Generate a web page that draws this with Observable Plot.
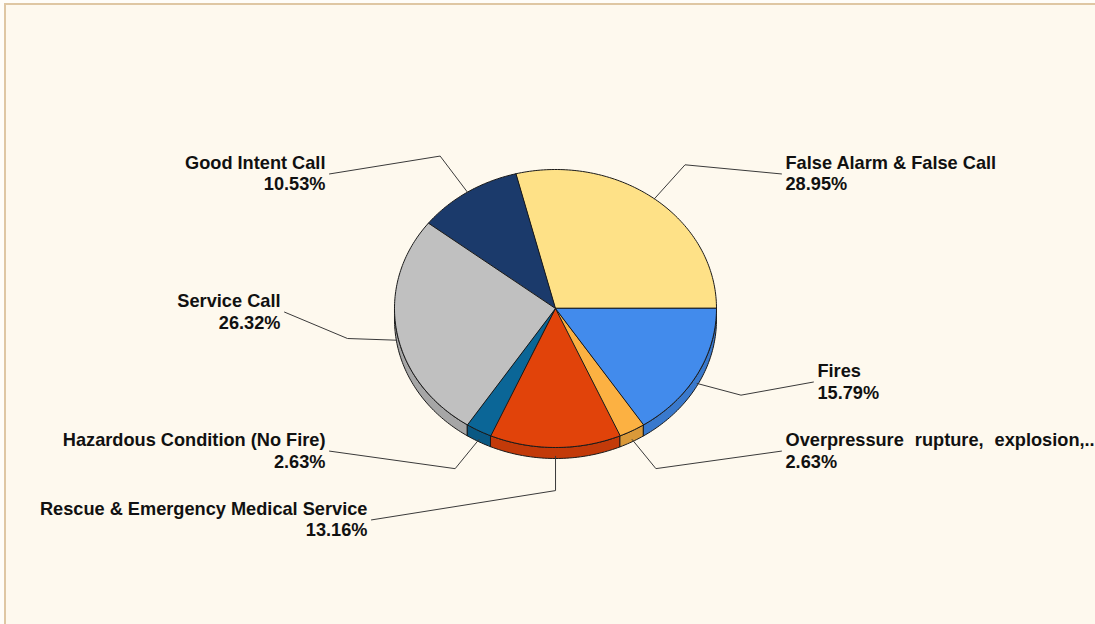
<!DOCTYPE html>
<html>
<head>
<meta charset="utf-8">
<script src="https://cdn.jsdelivr.net/npm/d3@7"></script>
<script src="https://cdn.jsdelivr.net/npm/@observablehq/plot@0.6"></script>
<style>
html,body{margin:0;padding:0;background:#fffdf8;overflow:hidden;width:1095px;height:624px}
#frame{position:absolute;left:4px;top:3px;width:1200px;height:700px;border-top:2px solid #dfc7a3;border-left:2px solid #dfc7a3;background:#fef9ee}
#chart{position:absolute;left:0;top:0}
</style>
</head>
<body>
<div id="frame"></div>
<div id="chart"></div>
<script>
// ---- data ----
const categories = [
  "False Alarm & False Call",
  "Good Intent Call",
  "Service Call",
  "Hazardous Condition (No Fire)",
  "Rescue & Emergency Medical Service",
  "Overpressure rupture, explosion,..",
  "Fires"
];
const percents = [28.95, 10.53, 26.32, 2.63, 13.16, 2.63, 15.79];
const sliceColors = ["#fee187", "#1b3a6b", "#c0c0c0", "#0b6697", "#e1430a", "#fcb142", "#428bec"];
// label layout (in pie-radius units) and alignment
const labelX = [1.4286, -1.4286, -1.708, -1.4286, -1.168, 1.4286, 1.627];
const labelY = [0.976, 0.976, -0.018, -1.018, -1.513, -1.018, -0.521];
const labelSide = ["start", "end", "end", "end", "end", "start", "start"];

// ---- layout ----
const W = 1095, H = 624;
const cx = 555, cy = 308, rx = 161, ry = 139, depth = 11;
const d = depth / ry;

const total = d3.sum(percents);
let acc = 0;
const slices = categories.map((c, i) => {
  const a0 = acc / total * 2 * Math.PI;
  acc += percents[i];
  const a1 = acc / total * 2 * Math.PI;
  return {name: c, value: percents[i], color: sliceColors[i], a0, a1, i};
});

function arcPts(a0, a1, dy = 0) {
  const n = Math.max(2, Math.ceil((a1 - a0) / (Math.PI / 180)));
  return d3.range(n + 1).map(k => {
    const a = a0 + (a1 - a0) * k / n;
    return {x: Math.cos(a), y: Math.sin(a) + dy};
  });
}

// top faces
const topFaces = slices.map(s => ({s, pts: [{x: 0, y: 0}, ...arcPts(s.a0, s.a1)]}));
// side faces (front half: angles pi..2pi)
const sideFaces = [];
slices.forEach(s => {
  const b0 = Math.max(s.a0, Math.PI), b1 = Math.min(s.a1, 2 * Math.PI);
  if (b1 > b0) {
    sideFaces.push({s, pts: [...arcPts(b0, b1), ...arcPts(b0, b1, -d).reverse()]});
  }
});

// leader lines
const leaders = slices.map((s, i) => {
  const m = (s.a0 + s.a1) / 2;
  const c = Math.cos(m), sn = Math.sin(m);
  const anchor = {x: c, y: sn + (sn < 0 ? -d * 0.8 : 0)};
  const elbow = {x: 1.31 * c, y: 1.31 * sn};
  const off = 0.025 * (labelSide[i] === "end" ? 1 : -1);
  const start = {x: labelX[i] + off, y: labelY[i] - 0.008};
  return [start, elbow, anchor].map(p => ({...p, k: i}));
}).flat();

const labels = slices.map((s, i) => ({
  x: labelX[i], y: labelY[i], side: labelSide[i],
  text: s.name + "\n" + s.value.toFixed(2) + "%"
}));

const marks = [];
sideFaces.forEach(f => marks.push(Plot.line(f.pts, {
  x: "x", y: "y", curve: "linear-closed",
  fill: d3.color(f.s.color).darker(0.4).formatHex(),
  stroke: "#1a1a1a", strokeWidth: 1, strokeLinejoin: "round"
})));
topFaces.forEach(f => marks.push(Plot.line(f.pts, {
  x: "x", y: "y", curve: "linear-closed",
  fill: f.s.color, stroke: "#1a1a1a", strokeWidth: 1, strokeLinejoin: "round"
})));
marks.push(Plot.line(leaders, {x: "x", y: "y", z: "k", stroke: "#3a3a3a", strokeWidth: 1}));
["start", "end"].forEach(side => marks.push(Plot.text(labels.filter(l => l.side === side), {
  x: "x", y: "y", text: "text", textAnchor: side, lineAnchor: "middle", lineHeight: 1.18,
  fontSize: 18.2, fontWeight: "bold", fontFamily: "Liberation Sans, Arial, sans-serif", fill: "#111"
})));

const svg = Plot.plot({
  width: W, height: H,
  margin: 0,
  style: {background: "transparent", overflow: "visible"},
  x: {domain: [-cx / rx, (W - cx) / rx], range: [0, W], axis: null},
  y: {domain: [-(H - cy) / ry, cy / ry], range: [H, 0], axis: null},
  marks
});
d3.select(svg).selectAll("tspan")
  .filter(function () { return this.textContent.startsWith("Overpressure"); })
  .style("word-spacing", "6px");
document.getElementById("chart").appendChild(svg);
</script>
</body>
</html>
